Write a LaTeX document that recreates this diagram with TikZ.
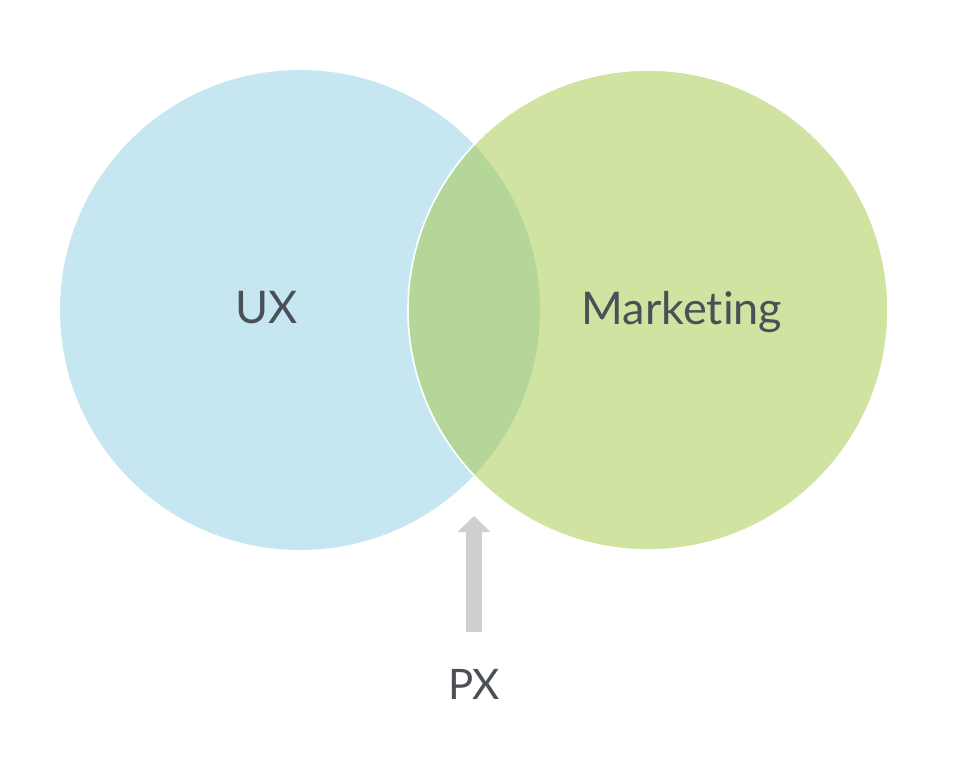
\documentclass[tikz,border=0pt]{standalone}
\usepackage{fontspec}
\setmainfont{Lato}[Ligatures=NoCommon]
\usetikzlibrary{arrows.meta}
\definecolor{uxblue}{HTML}{C6E7F2}
\definecolor{mkgreen}{HTML}{D0E3A0}
\definecolor{pxgreen}{HTML}{B4D699}
\definecolor{labelgray}{HTML}{4B5057}
\definecolor{arrowgray}{HTML}{CFCFCF}

\begin{document}
\begin{tikzpicture}[x=1pt, y=-1pt, every node/.style={font=\fontsize{45}{54}\selectfont, text=labelgray, inner sep=0pt},
  ring/.style={circle, minimum size=480pt, inner sep=0pt, outer sep=0pt}]
  \useasboundingbox[fill=white] (0,0) rectangle (954,774);
  \node[ring, fill=uxblue] (ux) at (300,310) {};
  \node[ring, fill=mkgreen] (mk) at (648,310) {};
  \begin{scope}
    \clip (300,310) circle (240);
    \fill[pxgreen] (648,310) circle (240);
  \end{scope}
  \draw[white, line width=1.6pt] (648,310) circle (240);
  \node (uxlabel) at (267,308) {UX};
  \node (mklabel) at (682,312) {Marketing};
  \node[font=\fontsize{42}{50}\selectfont] (pxlabel) at (474,684) {PX};
  \coordinate (tail) at (474,632);
  \coordinate (tip) at (474,516);
  \draw[arrowgray, line width=16pt, -{Triangle[width=32pt, length=16pt]}] (tail) -- (tip);
\end{tikzpicture}
\end{document}
